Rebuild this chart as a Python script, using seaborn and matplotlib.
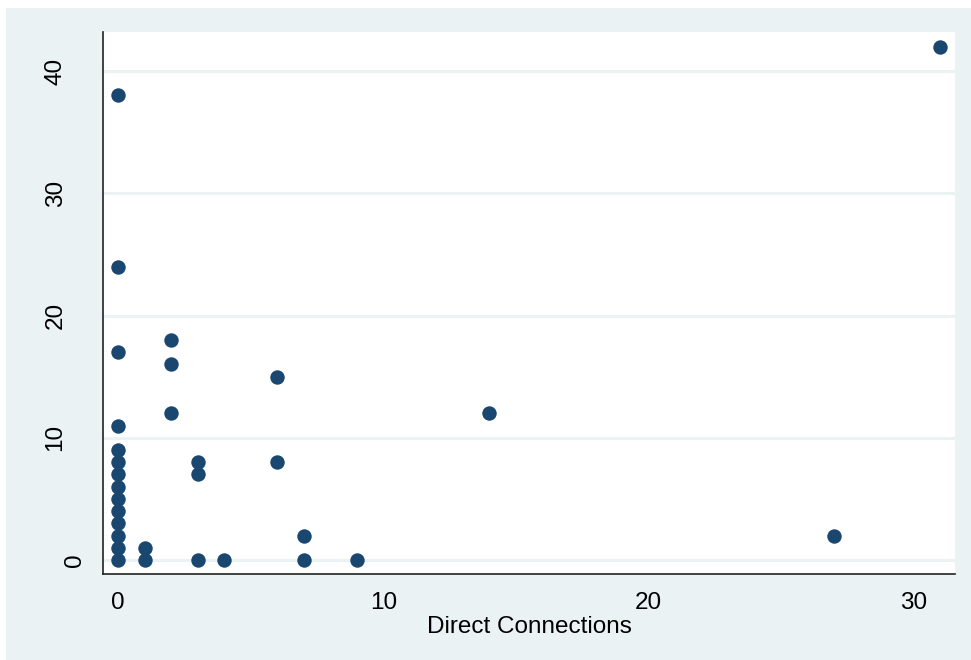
import matplotlib
matplotlib.use("Agg")
import matplotlib.pyplot as plt
from matplotlib.patches import Rectangle
from matplotlib.transforms import ScaledTranslation
import seaborn as sns
import pandas as pd

# Observations: direct connections (x) against the outcome count (y)
direct_connections = [0, 0, 0, 0, 0, 0, 0, 0, 0, 0, 0, 0, 0, 0,
                      1, 1,
                      2, 2, 2,
                      3, 3, 3,
                      4,
                      6, 6,
                      7, 7,
                      9,
                      14,
                      27,
                      31]
outcome = [0, 1, 2, 3, 4, 5, 6, 7, 8, 9, 11, 17, 24, 38,
           0, 1,
           12, 16, 18,
           0, 7, 8,
           0,
           8, 15,
           0, 2,
           0,
           12,
           2,
           42]

x_ticks = [0, 10, 20, 30]
y_ticks = [0, 10, 20, 30, 40]

df = pd.DataFrame({"Direct Connections": direct_connections, "y": outcome})

navy = "#1A476F"
panel = "#EAF2F3"

sns.set_style("white")
plt.rcParams["font.family"] = ["Liberation Sans", "DejaVu Sans"]

W, H = 971, 660
fig = plt.figure(figsize=(W / 100, H / 100), dpi=100)
fig.patch.set_facecolor("white")
fig.patches.append(Rectangle((6 / W, 0), 1 - 6 / W, 1 - 8 / H,
                             transform=fig.transFigure, facecolor=panel,
                             edgecolor="none", zorder=-10))

ax = fig.add_axes([103 / W, 1 - 574 / H, (955 - 103) / W, (574 - 32) / H])
ax.set_facecolor("white")

for yv in y_ticks:
    ax.axhline(yv, color=panel, lw=2.2, zorder=0)

sns.scatterplot(data=df, x="Direct Connections", y="y", ax=ax,
                color=navy, s=108, linewidth=0, zorder=3, clip_on=False)

ax.set_xlim(-0.566, 31.56)
ax.set_ylim(-1.145, 43.19)
ax.set_xticks(x_ticks)
ax.set_yticks(y_ticks)
ax.set_yticklabels([str(v) for v in y_ticks], rotation=90, va="center")

for side in ("top", "right"):
    ax.spines[side].set_visible(False)
for side in ("left", "bottom"):
    ax.spines[side].set_color("#222222")
    ax.spines[side].set_linewidth(1.2)

ax.tick_params(axis="both", direction="out", length=7.2, width=1.0,
               color="#222222", labelsize=17.5, labelcolor="black")
ax.tick_params(axis="x", pad=6)
ax.tick_params(axis="y", pad=19)

# the single-digit zero label sits closer to the axis than the others
for lab in ax.get_yticklabels():
    if lab.get_text() == "0":
        lab.set_transform(lab.get_transform()
                          + ScaledTranslation(14 / 72, 0, fig.dpi_scale_trans))

ax.set_xlabel("Direct Connections", fontsize=17.5, labelpad=1, color="black")
ax.set_ylabel("")

fig.savefig("out.png", dpi=100, facecolor=fig.get_facecolor())
